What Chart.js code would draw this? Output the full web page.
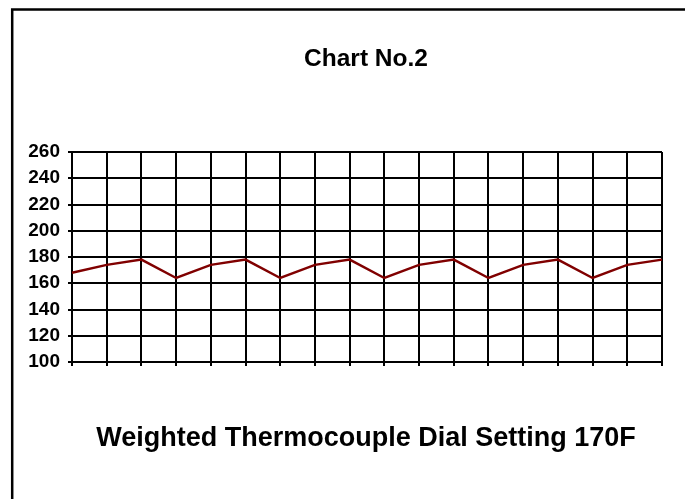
<!DOCTYPE html>
<html>
<head>
<meta charset="utf-8">
<script src="https://cdn.jsdelivr.net/npm/chart.js@4/dist/chart.umd.min.js"></script>
<style>
html,body{margin:0;padding:0;background:#fff;overflow:hidden;}
#wrap{position:relative;width:685px;height:499px;overflow:hidden;}
#c{position:absolute;left:0;top:0;}
</style>
</head>
<body>
<div id="wrap"><canvas id="c" width="732" height="499"></canvas></div>
<script>
const chartTitle = "Chart No.2";
const axisLabel = "Weighted Thermocouple Dial Setting 170F";
const categories = ["1","2","3","4","5","6","7","8","9","10","11","12","13","14","15","16","17","18"];
const temperatures = [168,174,178,164,174,178,164,174,178,164,174,178,164,174,178,164,174,178];
const yTicks = [100,120,140,160,180,200,220,240,260];

const FONT = "'Liberation Sans', Arial, sans-serif";

const framePlugin = {
  id: 'frame',
  beforeDraw(chart) {
    const ctx = chart.ctx;
    ctx.save();
    ctx.fillStyle = '#fff';
    ctx.fillRect(0, 0, chart.width, chart.height);
    ctx.strokeStyle = '#000';
    ctx.lineWidth = 2.5;
    ctx.beginPath();
    ctx.moveTo(12.2, chart.height + 5);
    ctx.lineTo(12.2, 9.6);
    ctx.lineTo(chart.width + 5, 9.6);
    ctx.stroke();
    ctx.restore();
  }
};

new Chart(document.getElementById('c'), {
  type: 'line',
  data: {
    labels: categories,
    datasets: [{
      data: temperatures,
      borderColor: '#800000',
      borderWidth: 2.5,
      pointRadius: 0,
      tension: 0,
      fill: false,
      yAxisID: 'y'
    }]
  },
  options: {
    responsive: false,
    animation: false,
    layout: { padding: { left: 0, right: 0, top: 0, bottom: 0 } },
    plugins: {
      legend: { display: false },
      tooltip: { enabled: false },
      title: {
        display: true,
        text: chartTitle,
        color: '#000',
        font: { family: FONT, size: 24.5, weight: 'bold', lineHeight: 1.2 },
        padding: { top: 44.3, bottom: 78.3 }
      },
      subtitle: {
        display: true,
        position: 'bottom',
        text: axisLabel,
        color: '#000',
        font: { family: FONT, size: 27, weight: 'bold', lineHeight: 1.2 },
        padding: { top: 50.3, bottom: 44.3 }
      }
    },
    scales: {
      x: {
        type: 'category',
        offset: false,
        afterFit(scale) { scale.height = 10; },
        ticks: { display: false },
        border: { display: true, color: '#000', width: 2 },
        grid: { color: '#000', lineWidth: 2, tickLength: 4, drawTicks: true }
      },
      y: {
        position: 'left',
        min: 100,
        max: 260,
        afterFit(scale) { scale.width = 72; },
        afterBuildTicks(scale) { scale.ticks = yTicks.map(v => ({ value: v })); },
        ticks: {
          color: '#000',
          padding: 8,
          font: { family: FONT, size: 19, weight: 'bold' }
        },
        border: { display: true, color: '#000', width: 2 },
        grid: { color: '#000', lineWidth: 2, tickLength: 4 }
      },
      spacer: {
        type: 'linear',
        position: 'right',
        display: true,
        afterFit(scale) { scale.width = 70; },
        ticks: { display: false },
        border: { display: false },
        grid: { display: false, drawTicks: false }
      }
    }
  },
  plugins: [framePlugin]
});
</script>
</body>
</html>
